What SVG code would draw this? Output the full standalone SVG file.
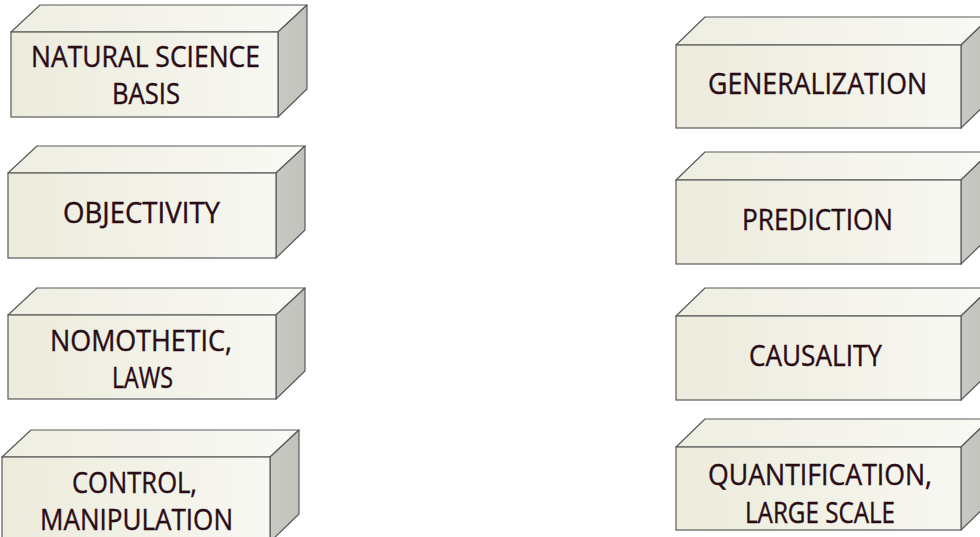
<svg xmlns="http://www.w3.org/2000/svg" width="980" height="537" viewBox="0 0 980 537">
<defs>
<linearGradient id="gFront" x1="0" y1="0" x2="1" y2="0">
<stop offset="0" stop-color="#ecebdc"/>
<stop offset="0.5" stop-color="#f1f1e6"/>
<stop offset="1" stop-color="#f8f8f3"/>
</linearGradient>
<linearGradient id="gTop" x1="0" y1="0" x2="1" y2="0">
<stop offset="0" stop-color="#efeee2"/>
<stop offset="1" stop-color="#f9f9f5"/>
</linearGradient>
<linearGradient id="gSide" x1="0" y1="0" x2="1" y2="0">
<stop offset="0" stop-color="#c9c9c3"/>
<stop offset="1" stop-color="#c2c2bc"/>
</linearGradient>
<style>
.front{fill:url(#gFront);stroke:#5a5a5a;stroke-width:1.2}
.top{fill:url(#gTop);stroke:#5a5a5a;stroke-width:1.2;stroke-linejoin:round}
.side{fill:url(#gSide);stroke:#5a5a5a;stroke-width:1.2;stroke-linejoin:round}
.lbl{font-family:"Open Sans","Noto Sans","Liberation Sans",sans-serif;font-size:28.5px;fill:#2a0c16;stroke:#2a0c16;stroke-width:0.4;text-anchor:middle}
</style>
</defs>

<g id="natural-science-basis">
<polygon class="top" points="11,32 40,5 307,5 278,32"/>
<polygon class="side" points="278,32 307,5 307,89 278,117"/>
<rect class="front" x="11" y="32" width="267" height="85"/>
<text class="lbl" x="145.5" y="67" textLength="229" lengthAdjust="spacingAndGlyphs">NATURAL SCIENCE</text>
<text class="lbl" x="146" y="104" textLength="68" lengthAdjust="spacingAndGlyphs">BASIS</text>
</g>

<g id="objectivity">
<polygon class="top" points="8,173 37,146 305,146 276,173"/>
<polygon class="side" points="276,173 305,146 305,230 276,258"/>
<rect class="front" x="8" y="173" width="268" height="85"/>
<text class="lbl" x="141.5" y="223" textLength="157" lengthAdjust="spacingAndGlyphs">OBJECTIVITY</text>
</g>

<g id="nomothetic-laws">
<polygon class="top" points="8,315 37,288 305,288 276,315"/>
<polygon class="side" points="276,315 305,288 305,371 276,399"/>
<rect class="front" x="8" y="315" width="268" height="84"/>
<text class="lbl" x="141" y="351" textLength="182" lengthAdjust="spacingAndGlyphs">NOMOTHETIC,</text>
<text class="lbl" x="142.5" y="388" textLength="61" lengthAdjust="spacingAndGlyphs">LAWS</text>
</g>

<g id="control-manipulation">
<polygon class="top" points="2,457 31,430 299,430 270,457"/>
<polygon class="side" points="270,457 299,430 299,514 270,542"/>
<rect class="front" x="2" y="457" width="268" height="90"/>
<text class="lbl" x="134.5" y="493" textLength="125" lengthAdjust="spacingAndGlyphs">CONTROL,</text>
<text class="lbl" x="136.5" y="530" textLength="193" lengthAdjust="spacingAndGlyphs">MANIPULATION</text>
</g>

<g id="generalization">
<polygon class="top" points="676,45 705,17 990,17 961,45"/>
<polygon class="side" points="961,45 990,17 990,100 961,128"/>
<rect class="front" x="676" y="45" width="285" height="83"/>
<text class="lbl" x="817.5" y="94" textLength="219" lengthAdjust="spacingAndGlyphs">GENERALIZATION</text>
</g>

<g id="prediction">
<polygon class="top" points="676,180 705,152 990,152 961,180"/>
<polygon class="side" points="961,180 990,152 990,236 961,264"/>
<rect class="front" x="676" y="180" width="285" height="84"/>
<text class="lbl" x="817.5" y="230" textLength="151" lengthAdjust="spacingAndGlyphs">PREDICTION</text>
</g>

<g id="causality">
<polygon class="top" points="676,316 705,288 990,288 961,316"/>
<polygon class="side" points="961,316 990,288 990,372 961,400"/>
<rect class="front" x="676" y="316" width="285" height="84"/>
<text class="lbl" x="815.5" y="366" textLength="133" lengthAdjust="spacingAndGlyphs">CAUSALITY</text>
</g>

<g id="quantification-large-scale">
<polygon class="top" points="676,447 705,419 990,419 961,447"/>
<polygon class="side" points="961,447 990,419 990,502 961,530"/>
<rect class="front" x="676" y="447" width="285" height="83"/>
<text class="lbl" x="820" y="485" textLength="224" lengthAdjust="spacingAndGlyphs">QUANTIFICATION,</text>
<text class="lbl" x="820" y="523" textLength="150" lengthAdjust="spacingAndGlyphs">LARGE SCALE</text>
</g>

<g id="connectors"></g>
</svg>
